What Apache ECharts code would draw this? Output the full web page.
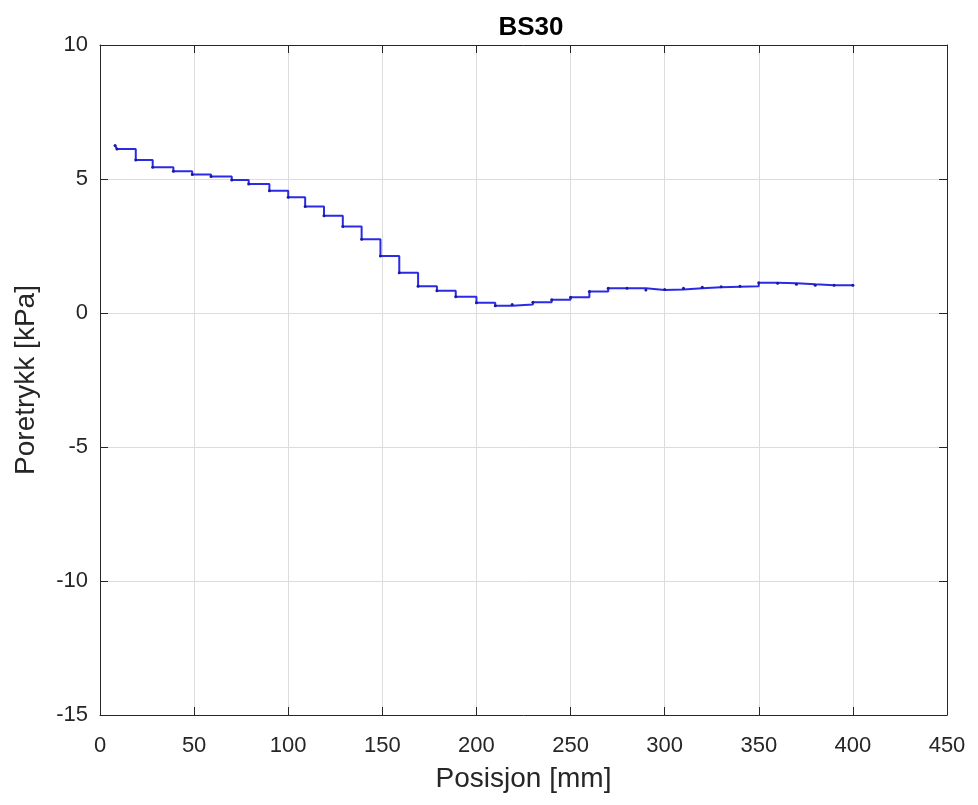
<!DOCTYPE html>
<html>
<head>
<meta charset="utf-8">
<script src="https://cdn.jsdelivr.net/npm/echarts@6/dist/echarts.min.js"></script>
<style>
  html, body { margin: 0; padding: 0; background: #fff; }
  #chart { width: 978px; height: 805px; }
</style>
</head>
<body>
<div id="chart"></div>
<script>
// Position (mm) where each pressure step begins, last entry closes the trace
const positions = [8, 9, 19, 28, 39, 49, 59, 70, 79, 90, 100, 109, 119, 129, 139, 149, 159, 169, 179, 189,
  200, 210, 219, 230, 240, 250, 260, 270, 280, 290, 300, 310, 320, 330, 340, 350, 360, 370, 380, 390, 400];
// Pore pressure (kPa) held over each step
const pressures = [6.25, 6.12, 5.71, 5.44, 5.29, 5.17, 5.09, 4.96, 4.81, 4.56, 4.32, 3.97, 3.63, 3.23, 2.75, 2.13, 1.50, 1.00, 0.83, 0.61,
  0.38, 0.27, 0.32, 0.40, 0.49, 0.59, 0.80, 0.92, 0.92, 0.86, 0.88, 0.92, 0.96, 0.98, 1.00, 1.13, 1.11, 1.07, 1.04, 1.04, 1.04];
const xTicks = [0, 50, 100, 150, 200, 250, 300, 350, 400, 450];
const yTicks = [-15, -10, -5, 0, 5, 10];

const font = 'Liberation Sans, Arial, Helvetica, sans-serif';
const ink = '#262626';
const gridColor = '#dcdcdc';

const seriesData = positions.map((x, i) => [x, pressures[i]]);

function boxAxis(extra) {
  return Object.assign({
    axisLine: { show: true, onZero: false, lineStyle: { color: ink, width: 1 } },
    axisTick: { show: true, inside: true, length: 8, lineStyle: { color: ink } },
    axisLabel: { show: false },
    splitLine: { show: false }
  }, extra);
}

const chart = echarts.init(document.getElementById('chart'), null, { renderer: 'canvas' });
chart.setOption({
  animation: false,
  backgroundColor: '#ffffff',
  title: {
    text: 'BS30',
    left: 526, top: 10, textAlign: 'center',
    textStyle: { fontFamily: font, fontSize: 26, fontWeight: 'bold', color: '#000' }
  },
  grid: { left: 100, right: 31, top: 45, bottom: 90, containLabel: false },
  xAxis: [
    {
      type: 'value', min: xTicks[0], max: xTicks[xTicks.length - 1], interval: 50,
      name: 'Posisjon [mm]', nameLocation: 'middle', nameGap: 50,
      nameTextStyle: { fontFamily: font, fontSize: 28, color: ink },
      axisLine: { show: true, onZero: false, lineStyle: { color: ink, width: 1 } },
      axisTick: { show: true, inside: true, length: 8, lineStyle: { color: ink } },
      axisLabel: { fontFamily: font, fontSize: 22, color: ink, margin: 20 },
      splitLine: { show: true, lineStyle: { color: gridColor, width: 1 } }
    },
    boxAxis({ type: 'value', position: 'top', min: xTicks[0], max: xTicks[xTicks.length - 1], interval: 50 })
  ],
  yAxis: [
    {
      type: 'value', min: yTicks[0], max: yTicks[yTicks.length - 1], interval: 5,
      name: 'Poretrykk [kPa]', nameLocation: 'middle', nameGap: 60,
      nameTextStyle: { fontFamily: font, fontSize: 28, color: ink },
      axisLine: { show: true, onZero: false, lineStyle: { color: ink, width: 1 } },
      axisTick: { show: true, inside: true, length: 8, lineStyle: { color: ink } },
      axisLabel: { fontFamily: font, fontSize: 22, color: ink, margin: 12 },
      splitLine: { show: true, lineStyle: { color: gridColor, width: 1 } }
    },
    boxAxis({ type: 'value', position: 'right', min: yTicks[0], max: yTicks[yTicks.length - 1], interval: 5 })
  ],
  series: [{
    type: 'line',
    data: seriesData,
    step: 'end',
    showSymbol: true,
    symbol: 'circle',
    symbolSize: 3,
    itemStyle: { color: '#1a1a9a' },
    lineStyle: { color: '#2b2be6', width: 2 }
  }]
});
</script>
</body>
</html>
